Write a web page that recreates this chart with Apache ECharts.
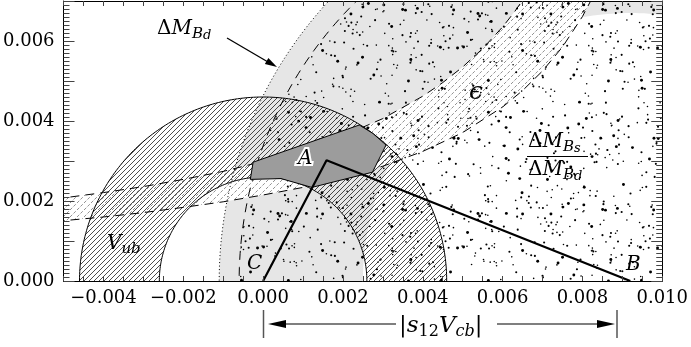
<!DOCTYPE html>
<html>
<head>
<meta charset="utf-8">
<script src="https://cdn.jsdelivr.net/npm/echarts@6/dist/echarts.min.js"></script>
<style>
  html, body { margin: 0; padding: 0; background: #fff; }
  #chart { width: 691px; height: 347px; }
</style>
</head>
<body>
<div id="chart"></div>
<script>
// plot window
const xRange = [-0.005, 0.010];
const yRange = [0, 0.007];

// triangle corners: C -> apex -> B
const triangleX = [0, 0.00159, 0.0092];
const triangleY = [0, 0.00302, 0];

// circle constraints
const pointC = [0, 0];
const pointB = [0.0092, 0];
const vubRadii = [0.0026, 0.0046];      // |Vub| ring round C
const dmdRadii = [0.0067, 0.0103];      // dM_Bd ring round B
const ratioRadius = [0.0098];           // dM_Bs/dM_Bd disk round B

// epsilon band edges
const epsUpperX = [-0.0052, -0.004, -0.003, -0.002, -0.001, 0, 0.001, 0.002, 0.003, 0.004, 0.0045, 0.005, 0.0055, 0.006, 0.0063, 0.00655];
const epsUpperY = [0.00205, 0.00221, 0.00236, 0.00254, 0.00274, 0.00299, 0.00328, 0.00363, 0.00406, 0.00462, 0.00496, 0.00535, 0.00581, 0.00635, 0.00673, 0.00709];
const epsLowerX = [-0.0052, -0.004, -0.003, -0.002, -0.001, 0, 0.001, 0.002, 0.003, 0.004, 0.005, 0.006, 0.0065, 0.007, 0.0075, 0.008, 0.0083];
const epsLowerY = [0.00149, 0.0016, 0.00171, 0.00184, 0.00198, 0.00215, 0.00234, 0.00258, 0.00287, 0.00324, 0.00371, 0.00435, 0.00476, 0.00525, 0.00585, 0.00661, 0.00718];

// allowed region A
const regionAX = [-0.00025, 0.00241, 0.00275, 0.00308, 0.00274, 0.00122, 0.00045, -0.00032];
const regionAY = [0.00297, 0.0039, 0.00369, 0.0034, 0.00272, 0.00234, 0.00256, 0.00254];

const FONT = '"DejaVu Serif", serif';

// ---- fill textures ----
function hatchTile(size, color, width, dash) {
  const c = document.createElement('canvas');
  c.width = c.height = size;
  const g = c.getContext('2d');
  g.strokeStyle = color;
  g.lineWidth = width;
  if (dash) g.setLineDash(dash);
  for (let k = -1; k <= 1; k++) {
    g.beginPath();
    g.moveTo(k * size, size);
    g.lineTo(k * size + size, 0);
    g.stroke();
  }
  return c;
}

function stippleTile(size, count) {
  const c = document.createElement('canvas');
  c.width = c.height = size;
  const g = c.getContext('2d');
  g.fillStyle = '#000';
  let s = 24681;
  const rnd = () => (s = (s * 16807) % 2147483647) / 2147483647;
  for (let i = 0; i < count; i++) {
    const x = rnd() * size, y = rnd() * size, q = rnd();
    const r = q < 0.5 ? 0.8 : (q < 0.85 ? 1.05 : 1.45);
    for (const dx of [-size, 0, size]) {
      for (const dy of [-size, 0, size]) {
        g.beginPath();
        g.arc(x + dx, y + dy, r, 0, Math.PI * 2);
        g.fill();
      }
    }
  }
  return c;
}

const vubHatch = { image: hatchTile(5, '#111', 0.75), repeat: 'repeat' };
const epsHatch = { image: hatchTile(7, '#777', 0.8, [3.2, 1.75]), repeat: 'repeat' };
const stipple = { image: stippleTile(200, 420), repeat: 'repeat' };

// ---- geometry helpers (go through the axes) ----
function circlePts(api, c, r, dir) {
  const pts = [];
  for (let i = 0; i <= 360; i++) {
    const t = dir * i * Math.PI / 180;
    pts.push(api.coord([c[0] + r * Math.cos(t), c[1] + r * Math.sin(t)]));
  }
  return pts;
}
function toPath(pts) {
  return pts.map((p, i) => (i ? 'L' : 'M') + p[0].toFixed(2) + ' ' + p[1].toFixed(2)).join('') + 'Z';
}
function ringPath(api, c, r0, r1) {
  return toPath(circlePts(api, c, r1, 1)) + toPath(circlePts(api, c, r0, -1));
}
function seriesPts(api, xs, ys) {
  return xs.map((x, i) => api.coord([x, ys[i]]));
}

function layer(z, render) {
  return {
    type: 'custom', coordinateSystem: 'cartesian2d', clip: true, silent: true,
    z: z, data: [[0, 0]], renderItem: render
  };
}

const chart = echarts.init(document.getElementById('chart'));

const axisCommon = {
  type: 'value',
  splitLine: { show: false },
  axisLine: { show: true, onZero: false, lineStyle: { color: '#000', width: 1 } },
  z: 50
};
const labelFmt = v => {
  const k = Math.round(v * 1000);
  if (k % 2 !== 0) return '';
  return (k < 0 ? '\u2212' : '') + Math.abs(v).toFixed(3);
};

const rich = {
  u: { fontFamily: FONT, fontSize: 20, lineHeight: 26, color: '#000' },
  i: { fontFamily: FONT, fontSize: 20, fontStyle: 'italic', lineHeight: 26, color: '#000' },
  e: { fontFamily: FONT, fontSize: 25, fontStyle: 'italic', lineHeight: 30, color: '#000' },
  b: { fontFamily: FONT, fontSize: 15, fontStyle: 'italic', lineHeight: 15, verticalAlign: 'bottom', color: '#000' },
  d: { fontFamily: FONT, fontSize: 13, fontStyle: 'italic', lineHeight: 11, verticalAlign: 'bottom', color: '#000' },
  U: { fontFamily: FONT, fontSize: 23, lineHeight: 28, color: '#000' },
  I: { fontFamily: FONT, fontSize: 23, fontStyle: 'italic', lineHeight: 28, color: '#000' },
  n: { fontFamily: FONT, fontSize: 16, lineHeight: 16, verticalAlign: 'bottom', color: '#000' },
  c: { fontFamily: FONT, fontSize: 16, fontStyle: 'italic', lineHeight: 16, verticalAlign: 'bottom', color: '#000' }
};
function label(x, y, text) {
  return {
    type: 'text', x: x, y: y, z: 100, silent: true,
    style: { text: text, rich: rich, align: 'left', verticalAlign: 'middle' }
  };
}
function plain(x, y, text, fill, stroke, lw) {
  return {
    type: 'text', x: x, y: y, z: 100, silent: true,
    style: {
      text: text, font: 'italic 20px ' + FONT, align: 'left', verticalAlign: 'middle',
      fill: fill, stroke: stroke, lineWidth: lw
    }
  };
}
function arrowHead(tip, from, len, half) {
  const dx = tip[0] - from[0], dy = tip[1] - from[1];
  const L = Math.hypot(dx, dy), ux = dx / L, uy = dy / L;
  const bx = tip[0] - ux * len, by = tip[1] - uy * len;
  return {
    type: 'polygon', z: 100, silent: true,
    shape: { points: [tip, [bx - uy * half, by + ux * half], [bx + uy * half, by - ux * half]] },
    style: { fill: '#000' }
  };
}
function seg(x1, y1, x2, y2, color, w) {
  return { type: 'line', z: 100, silent: true, shape: { x1, y1, x2, y2 }, style: { stroke: color, lineWidth: w } };
}

const option = {
  animation: false,
  grid: { left: 61, right: 25, top: 1, bottom: 66 },
  xAxis: [
    Object.assign({}, axisCommon, {
      min: xRange[0], max: xRange[1], interval: 0.001, position: 'bottom',
      axisTick: { show: true, inside: true, length: 5, lineStyle: { color: '#444' } },
      minorTick: { show: true, splitNumber: 2, length: 5, lineStyle: { color: '#444' } },
      axisLabel: { formatter: labelFmt, color: '#000', fontFamily: FONT, fontSize: 18, margin: 8 }
    }),
    Object.assign({}, axisCommon, {
      min: xRange[0], max: xRange[1], interval: 0.001, position: 'top',
      axisTick: { show: true, inside: true, length: 5, lineStyle: { color: '#444' } },
      minorTick: { show: true, splitNumber: 2, length: 5, lineStyle: { color: '#444' } },
      axisLabel: { show: false }
    })
  ],
  yAxis: [
    Object.assign({}, axisCommon, {
      min: yRange[0], max: yRange[1], interval: 0.001, position: 'left',
      axisTick: { show: true, inside: true, length: 11, lineStyle: { color: '#444' } },
      minorTick: { show: true, splitNumber: 10, length: 6, lineStyle: { color: '#444' } },
      axisLabel: { formatter: labelFmt, color: '#000', fontFamily: FONT, fontSize: 18, margin: 9 }
    }),
    Object.assign({}, axisCommon, {
      min: yRange[0], max: yRange[1], interval: 0.001, position: 'right',
      axisTick: { show: true, inside: true, length: 11, lineStyle: { color: '#444' } },
      minorTick: { show: true, splitNumber: 10, length: 6, lineStyle: { color: '#444' } },
      axisLabel: { show: false }
    })
  ],
  series: [
    // dM_Bd ring (light grey)
    layer(1, (p, api) => ({
      type: 'path', shape: { pathData: ringPath(api, pointB, dmdRadii[0], dmdRadii[1]) },
      style: { fill: '#e6e6e6', stroke: null }
    })),
    // epsilon band
    layer(2, (p, api) => {
      const pts = seriesPts(api, epsUpperX, epsUpperY).concat(seriesPts(api, epsLowerX, epsLowerY).reverse());
      return {
        type: 'group', children: [
          { type: 'polygon', shape: { points: pts }, style: { fill: '#fff', stroke: null } },
          { type: 'polygon', shape: { points: pts }, style: { fill: epsHatch, stroke: null } }
        ]
      };
    }),
    // dM_Bs/dM_Bd disk (stippled)
    layer(3, (p, api) => ({
      type: 'path', shape: { pathData: toPath(circlePts(api, pointB, ratioRadius[0], 1)) },
      style: { fill: stipple, stroke: null }
    })),
    // Vub ring (hatched)
    layer(4, (p, api) => ({
      type: 'path', shape: { pathData: ringPath(api, pointC, vubRadii[0], vubRadii[1]) },
      style: { fill: vubHatch, stroke: null }
    })),
    // boundaries
    layer(5, (p, api) => ({
      type: 'group', children: [
        { type: 'path', shape: { pathData: toPath(circlePts(api, pointC, vubRadii[0], 1)) }, style: { fill: 'none', stroke: '#000', lineWidth: 1 } },
        { type: 'path', shape: { pathData: toPath(circlePts(api, pointC, vubRadii[1], 1)) }, style: { fill: 'none', stroke: '#000', lineWidth: 1 } },
        { type: 'path', shape: { pathData: toPath(circlePts(api, pointB, dmdRadii[1], 1)) }, style: { fill: 'none', stroke: '#000', lineWidth: 1, lineDash: [1, 2.5] } },
        { type: 'path', shape: { pathData: toPath(circlePts(api, pointB, ratioRadius[0], 1)) }, style: { fill: 'none', stroke: '#000', lineWidth: 1, lineDash: [9, 7] } },
        { type: 'polyline', shape: { points: seriesPts(api, epsUpperX, epsUpperY) }, style: { fill: 'none', stroke: '#000', lineWidth: 1, lineDash: [9, 6] } },
        { type: 'polyline', shape: { points: seriesPts(api, epsLowerX, epsLowerY) }, style: { fill: 'none', stroke: '#000', lineWidth: 1, lineDash: [9, 6] } }
      ]
    })),
    // region A
    layer(6, (p, api) => ({
      type: 'polygon', shape: { points: seriesPts(api, regionAX, regionAY) },
      style: { fill: '#9c9c9c', stroke: '#000', lineWidth: 1 }
    })),
    // unitarity triangle
    {
      type: 'line', z: 7, silent: true, symbol: 'none', clip: true,
      data: triangleX.map((x, i) => [x, triangleY[i]]),
      lineStyle: { color: '#000', width: 2.2 }
    }
  ],
  graphic: [
    label(157, 29, '{u|Δ}{i|M}{b|B}{d|d}'),
    seg(227, 38, 268, 62, '#000', 1.3),
    arrowHead([277, 67], [227, 38], 12, 3.5),
    label(469, 92, '{e|ϵ}'),
    label(528, 142, '{u|Δ}{i|M}{b|B}{d|s}'),
    seg(527, 156.5, 588, 156.5, '#000', 1),
    label(528, 170, '{u|Δ}{i|M}{b|B}{d|d}'),
    label(107, 244, '{i|V}{b|ub}'),
    plain(298, 159, 'A', '#fff', '#fff', 4),
    plain(298, 159, 'A', '#000', null, 0),
    plain(247, 264, 'C', '#000', null, 0),
    plain(626, 265, 'B', '#000', null, 0),
    seg(263.5, 310, 263.5, 338, '#555', 1.5),
    seg(617, 310, 617, 338, '#555', 1.5),
    seg(275, 324, 396, 324, '#000', 1.2),
    arrowHead([268, 324], [396, 324], 18, 4),
    seg(497, 324, 608, 324, '#000', 1.2),
    arrowHead([615, 324], [497, 324], 18, 4),
    label(399, 326, '{U||}{I|s}{n|12}{I|V}{c|cb}{U||}')
  ]
};

chart.setOption(option);
</script>
</body>
</html>
